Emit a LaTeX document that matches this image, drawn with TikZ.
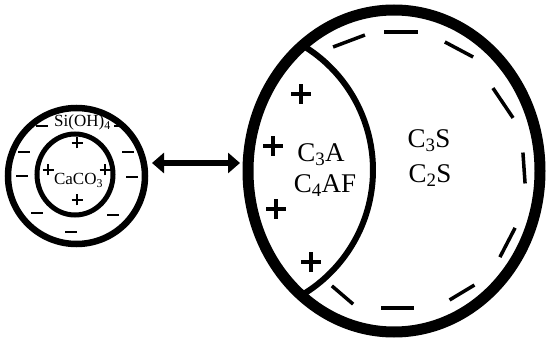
\documentclass[tikz,border=0pt]{standalone}
\usepackage{fontspec}
\setmainfont{Liberation Serif}
\usetikzlibrary{shapes.geometric,arrows.meta}
\begin{document}
\begin{tikzpicture}[x=1pt,y=1pt,
  ring/.style={ellipse,draw,inner sep=0pt,outer sep=0pt},
  smalltxt/.style={anchor=base,inner sep=0pt,font=\fontsize{17}{20}\selectfont},
  bigtxt/.style={anchor=base,inner sep=0pt,font=\fontsize{27}{30}\selectfont},
  thinsign/.style={line width=2.8pt},
  boldsign/.style={line width=3.5pt},
  twoway/.style={line width=6pt,{Triangle[length=12pt,width=20pt]}-{Triangle[length=12pt,width=20pt]}}
]
\useasboundingbox (0,0) rectangle (547,338);

% small particle: silica shell around a calcite core
\node[ring,line width=6.5pt,minimum width=137pt,minimum height=136pt] (shell) at (76.5,162) {};
\node[ring,line width=5pt,minimum width=76pt,minimum height=81pt] (core) at (75,163.5) {};

% cement grain with its aluminate crescent
\node[ring,line width=11pt,minimum width=292pt,minimum height=322pt] (grain) at (394,167) {};
\coordinate (ctop) at (302.4,292.7);
\draw[line width=6pt] (ctop) arc[start angle=59,end angle=-59,radius=145.5];

% interaction arrow
\draw[twoway,shorten <=7pt,shorten >=8pt] ([yshift=13pt]shell.east) -- ([yshift=8pt]grain.west);

% labels
\node[smalltxt] (silanol) at (82.5,211) {Si(OH)\textsubscript{4}};
\node[smalltxt] (calcite) at (78.5,153) {CaCO\textsubscript{3}};
\node[bigtxt] (aluminate) at (321,176) {C\textsubscript{3}A};
\node[bigtxt] (ferrite) at (325,145) {C\textsubscript{4}AF};
\node[bigtxt] (alite) at (429,190) {C\textsubscript{3}S};
\node[bigtxt] (belite) at (430,155) {C\textsubscript{2}S};

% charges on the small particle
\foreach \x/\y in {42/212,120/212,24/186,128/186,22/162,132/161,37/125,113/123,71/106}
  \draw[thinsign] (\x-6,\y) -- (\x+6,\y);
\foreach \x/\y in {77/195,48/168,105/168,77/138}
  \draw[thinsign] (\x-5.5,\y) -- (\x+5.5,\y) (\x,\y-5.5) -- (\x,\y+5.5);

% charges on the cement grain
\foreach \x/\y in {301/244,273/192,276/129,311/76}
  \draw[boldsign] (\x-10,\y) -- (\x+10,\y) (\x,\y-10) -- (\x,\y+10);
\foreach \x/\y/\a/\l in {349/297/20.6/34,401/306/0/34,459/288.5/-28/32,503/235/-56/36,
    524/170/94/31,507.5/95.5/62.6/33,462/45.5/31/29,397.5/30/0/33,342.5/43/-40.6/28}
  \draw[boldsign] (\x,\y) ++(\a+180:\l/2) -- ++(\a:\l);
\end{tikzpicture}
\end{document}
